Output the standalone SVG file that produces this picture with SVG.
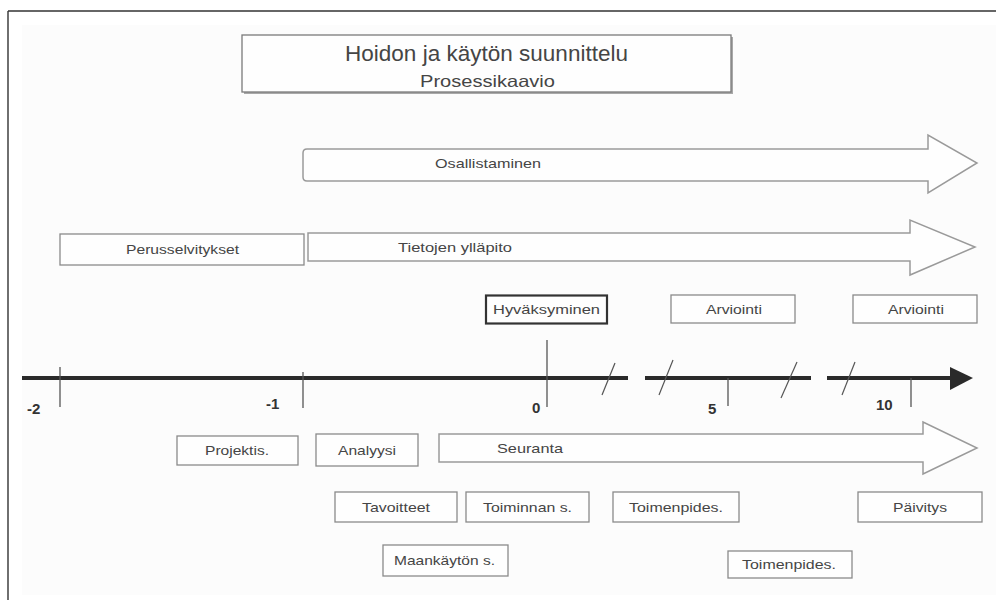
<svg xmlns="http://www.w3.org/2000/svg" width="996" height="601" viewBox="0 0 996 601">
<defs>
<style>
.bx{fill:#fefefe;stroke:#8a8a8a;stroke-width:1.3}
.ar{fill:#fefefe;stroke:#9a9a9a;stroke-width:1.5;stroke-linejoin:miter}
.t{font-family:"Liberation Sans",Arial,sans-serif;font-size:13px;fill:#454545}
.ax{font-family:"Liberation Sans",Arial,sans-serif;font-size:15px;font-weight:bold;fill:#333}
.tick{stroke:#555;stroke-width:1.3}
.brk{stroke:#555;stroke-width:1.2}
.axis{stroke:#2a2a2a;stroke-width:4}
</style>
</defs>
<rect x="0" y="0" width="996" height="601" fill="#ffffff"/>
<rect x="22" y="25" width="974" height="570" fill="#fcfcfc"/>
<g id="frame" fill="none" stroke="#333" stroke-width="1.4">
<line x1="8" y1="11" x2="996" y2="11"/>
<line x1="8" y1="11" x2="8" y2="600"/>
</g>

<g id="title">
<rect x="244" y="37" width="489" height="57" fill="#a8a8a8"/>
<rect x="242" y="35" width="489" height="57" fill="#fefefe" stroke="#7a7a7a" stroke-width="1.3"/>
<text x="345" y="61" class="t" style="font-size:22px" textLength="283" lengthAdjust="spacingAndGlyphs">Hoidon ja käytön suunnittelu</text>
<text x="420" y="87" class="t" style="font-size:16.5px" textLength="135" lengthAdjust="spacingAndGlyphs">Prosessikaavio</text>
</g>

<g id="osallistaminen">
<path class="ar" d="M307,149 H928 V135 L977,163 L928,193 V181 H307 Q303,181 303,177 V153 Q303,149 307,149 Z"/>
<text x="435" y="168" class="t" textLength="106" lengthAdjust="spacingAndGlyphs">Osallistaminen</text>
</g>

<g id="perusselvitykset">
<rect class="bx" x="60" y="234" width="244" height="31"/>
<text x="126" y="254" class="t" textLength="113" lengthAdjust="spacingAndGlyphs">Perusselvitykset</text>
</g>

<g id="tietojen">
<path class="ar" d="M308,233 H910 V220 L975,247 L910,275 V261 H308 Z"/>
<text x="398" y="252" class="t" textLength="114" lengthAdjust="spacingAndGlyphs">Tietojen ylläpito</text>
</g>

<g id="hyvaksyminen">
<rect x="486" y="295.5" width="121" height="28" fill="#fefefe" stroke="#333" stroke-width="2.2"/>
<text x="493" y="314" class="t" textLength="107" lengthAdjust="spacingAndGlyphs">Hyväksyminen</text>
</g>

<g id="arviointi1">
<rect class="bx" x="671" y="295" width="124" height="28"/>
<text x="706" y="314" class="t" textLength="56" lengthAdjust="spacingAndGlyphs">Arviointi</text>
</g>

<g id="arviointi2">
<rect class="bx" x="853" y="295" width="124" height="28"/>
<text x="888" y="314" class="t" textLength="56" lengthAdjust="spacingAndGlyphs">Arviointi</text>
</g>

<g id="timeline">
<line class="axis" x1="22" y1="378" x2="628" y2="378"/>
<line class="axis" x1="645" y1="378" x2="811" y2="378"/>
<line class="axis" x1="827" y1="378" x2="952" y2="378"/>
<polygon points="950,367 973,378 950,390" fill="#2a2a2a"/>
<line class="tick" x1="60" y1="367" x2="60" y2="407"/>
<line class="tick" x1="303" y1="372" x2="303" y2="408"/>
<line class="tick" x1="547" y1="340" x2="547" y2="407"/>
<line class="tick" x1="728" y1="378" x2="728" y2="406"/>
<line class="tick" x1="911" y1="378" x2="911" y2="407"/>
<line class="brk" x1="602" y1="395" x2="615" y2="363"/>
<line class="brk" x1="659" y1="395" x2="673" y2="360"/>
<line class="brk" x1="781" y1="398" x2="797" y2="362"/>
<line class="brk" x1="842" y1="395" x2="855" y2="362"/>
<text class="ax" x="27" y="414">-2</text>
<text class="ax" x="266" y="409">-1</text>
<text class="ax" x="532" y="413">0</text>
<text class="ax" x="708" y="414">5</text>
<text class="ax" x="876" y="410">10</text>
</g>

<g id="projektis">
<rect class="bx" x="177" y="436" width="121" height="29"/>
<text x="205" y="455" class="t" textLength="64" lengthAdjust="spacingAndGlyphs">Projektis.</text>
</g>

<g id="analyysi">
<rect class="bx" x="316" y="434" width="102" height="32"/>
<text x="338" y="455" class="t" textLength="58" lengthAdjust="spacingAndGlyphs">Analyysi</text>
</g>

<g id="seuranta">
<path class="ar" d="M439,434 H923 V422 L977,448 L923,474 V462 H439 Z"/>
<text x="497" y="453" class="t" textLength="66" lengthAdjust="spacingAndGlyphs">Seuranta</text>
</g>

<g id="tavoitteet">
<rect class="bx" x="335" y="492" width="122" height="30"/>
<text x="362" y="512" class="t" textLength="68" lengthAdjust="spacingAndGlyphs">Tavoitteet</text>
</g>

<g id="toiminnan">
<rect class="bx" x="466" y="492" width="123" height="30"/>
<text x="483" y="512" class="t" textLength="89" lengthAdjust="spacingAndGlyphs">Toiminnan s.</text>
</g>

<g id="toimenpides1">
<rect class="bx" x="613" y="492" width="126" height="30"/>
<text x="629" y="512" class="t" textLength="94" lengthAdjust="spacingAndGlyphs">Toimenpides.</text>
</g>

<g id="paivitys">
<rect class="bx" x="858" y="492" width="124" height="30"/>
<text x="893" y="512" class="t" textLength="54" lengthAdjust="spacingAndGlyphs">Päivitys</text>
</g>

<g id="maankaytto">
<rect class="bx" x="383" y="545" width="125" height="31"/>
<text x="394" y="565" class="t" textLength="101" lengthAdjust="spacingAndGlyphs">Maankäytön s.</text>
</g>

<g id="toimenpides2">
<rect class="bx" x="728" y="551" width="124" height="27"/>
<text x="742" y="569" class="t" textLength="94" lengthAdjust="spacingAndGlyphs">Toimenpides.</text>
</g>
</svg>
